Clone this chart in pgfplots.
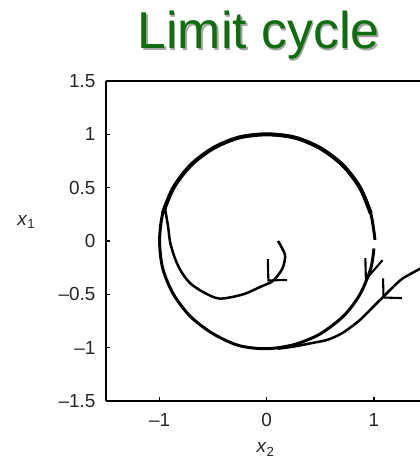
\documentclass[border=0pt]{standalone}
\usepackage{pgfplots}
\pgfplotsset{compat=1.18}
\usepackage{fontspec}
\setmainfont{Liberation Sans}
\definecolor{titlegreen}{RGB}{14,110,14}

\begin{document}
\begin{tikzpicture}
\begin{axis}[
  name=ax,
  scale only axis,
  width=314bp, height=320bp,
  xmin=-1.5, xmax=1.43, ymin=-1.5, ymax=1.5,
  axis x line*=box, axis y line*=left,
  axis line style={line width=2.2bp, black},
  tick align=inside,
  major tick length=4bp,
  tick style={line width=1.3bp, black},
  xtick pos=left, ytick pos=left,
  xtick={-1,0,1}, xticklabels={–1,0,1},
  ytick={-1.5,-1,-0.5,0,0.5,1,1.5},
  yticklabels={–1.5,–1,–0.5,0,0.5,1,1.5},
  tick label style={font=\fontsize{19}{21}\selectfont, text=black!85},
  xticklabel style={yshift=-9bp},
  yticklabel style={xshift=-7bp},
  xlabel={\textit{x}\textsubscript{2}},
  ylabel={\textit{x}\textsubscript{1}},
  every axis x label/.style={at={(axis description cs:0.508,-0.152)}, anchor=center, font=\fontsize{19}{21}\selectfont, text=black!85},
  every axis y label/.style={at={(axis description cs:-0.254,0.56)}, anchor=center, font=\fontsize{19}{21}\selectfont, text=black!85},
  clip=true,
]
% limit cycle (small gap on the right side near x2 = 1)
\addplot[black, line width=3.0bp, smooth] coordinates {
  (1.00,-0.07) (0.97,-0.26) (0.87,-0.50) (0.72,-0.70) (0.50,-0.87)
  (0.26,-0.97) (0.00,-1.01) (-0.26,-0.98) (-0.50,-0.87) (-0.71,-0.71)
  (-0.87,-0.50) (-0.97,-0.26) (-1.00,0.00) (-0.97,0.26) (-0.87,0.50)
  (-0.71,0.71) (-0.50,0.87) (-0.26,0.97) (0.00,1.00) (0.26,0.97)
  (0.50,0.87) (0.71,0.71) (0.87,0.50) (0.97,0.26) (1.01,0.01)
};
% repeated passes thicken the upper arc
\addplot[black, line width=4.0bp, smooth] coordinates {
  (-0.97,0.26) (-0.87,0.50) (-0.71,0.71) (-0.50,0.87) (-0.26,0.97)
  (0.00,1.00) (0.26,0.97) (0.50,0.87) (0.71,0.71) (0.87,0.50) (0.97,0.26)
};
% trajectory starting inside the cycle
\addplot[black, line width=2.5bp, smooth] coordinates {
  (0.105,0.00) (0.17,-0.13) (0.15,-0.25) (0.105,-0.32) (0.05,-0.38)
  (-0.06,-0.43) (-0.22,-0.50) (-0.44,-0.54) (-0.59,-0.48) (-0.71,-0.40)
  (-0.79,-0.30) (-0.85,-0.18) (-0.90,-0.02) (-0.92,0.13) (-0.95,0.31)
};
% trajectory starting outside the cycle
\addplot[black, line width=2.5bp, smooth] coordinates {
  (1.52,-0.20) (1.43,-0.26) (1.27,-0.35) (1.17,-0.44) (1.09,-0.52)
  (0.99,-0.62) (0.87,-0.74) (0.71,-0.86) (0.57,-0.925) (0.43,-0.955)
  (0.25,-0.99) (0.10,-1.01)
};
% direction arrows
\addplot[black, line width=2.1bp] coordinates {(0.01,-0.17) (0.015,-0.37) (0.19,-0.365)};
\addplot[black, line width=2.1bp] coordinates {(0.92,-0.16) (0.925,-0.36) (1.08,-0.18)};
\addplot[black, line width=2.1bp] coordinates {(1.085,-0.35) (1.09,-0.53) (1.26,-0.535)};
\end{axis}
\node[anchor=base, text=black!35, font=\fontsize{52}{60}\selectfont]
  at ([xshift=154bp,yshift=30.5bp]ax.north west) {Limit cycle};
\node[anchor=base, text=titlegreen, font=\fontsize{52}{60}\selectfont]
  at ([xshift=152.5bp,yshift=32bp]ax.north west) {Limit cycle};
\pgfresetboundingbox
\path[use as bounding box] ([xshift=-106bp,yshift=81bp]ax.north west) rectangle ([yshift=-60bp]ax.south east);
\end{tikzpicture}
\end{document}
